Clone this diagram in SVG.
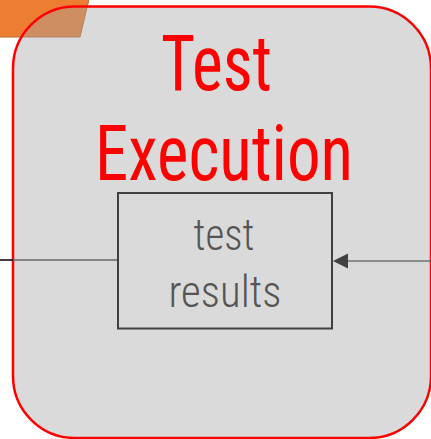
<svg xmlns="http://www.w3.org/2000/svg" width="431" height="439" viewBox="0 0 431 439">
  <style>
    .title { font-family: "Roboto Condensed", Roboto, "Liberation Sans", sans-serif; font-size: 77px; fill: #FF0000; }
    .label { font-family: "Roboto Condensed", Roboto, "Liberation Sans", sans-serif; font-size: 45px; font-weight: 300; fill: #555555; }
    .wire { fill: none; stroke-width: 1.5; }
  </style>

  <!-- orange tab peeking in at the top left -->
  <g id="tab">
    <polygon points="-5,-5 90,-5 80,37 -5,37" fill="#ED7D31" stroke="#B86A3A" stroke-width="1"/>
  </g>

  <!-- stage panel -->
  <g id="test-execution">
    <rect x="13" y="6.5" width="418" height="431.5" rx="62" ry="62" fill="#A6A6A6" fill-opacity="0.42" stroke="#FF0000" stroke-width="2.5"/>
    <text class="title" x="161" y="90" textLength="111" lengthAdjust="spacingAndGlyphs">Test</text>
    <text class="title" x="95" y="180" textLength="258" lengthAdjust="spacingAndGlyphs">Execution</text>
  </g>

  <!-- connectors: incoming on the right, outgoing on the left -->
  <g id="connectors">
    <line class="wire" x1="0" y1="260" x2="13" y2="260" stroke="#000000"/>
    <line class="wire" x1="13" y1="260" x2="118" y2="260" stroke="#666666"/>
    <line class="wire" x1="431" y1="261" x2="347" y2="261" stroke="#6F6F6F"/>
    <polygon points="333,261 348,253.5 348,268.5" fill="#404040"/>
  </g>

  <!-- artefact box -->
  <g id="test-results">
    <rect x="118" y="193" width="214" height="135.5" fill="none" stroke="#404040" stroke-width="2"/>
    <text class="label" x="193.5" y="250" textLength="61" lengthAdjust="spacingAndGlyphs">test</text>
    <text class="label" x="168.5" y="307" textLength="113" lengthAdjust="spacingAndGlyphs">results</text>
  </g>
</svg>
